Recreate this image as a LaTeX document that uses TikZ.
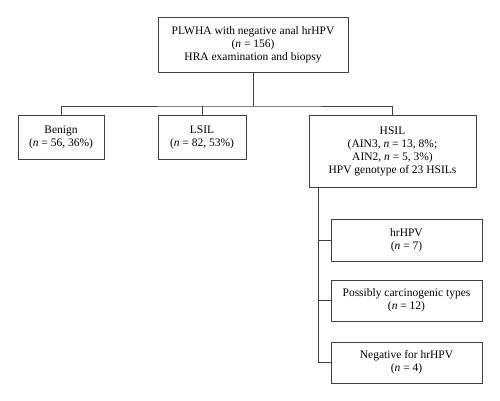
\documentclass[tikz,border=0pt]{standalone}
\usepackage{fontspec}
\setmainfont{Liberation Serif}
\usetikzlibrary{positioning}

\tikzset{
  box/.style = {draw, line width=0.8pt, draw=black!75, align=center, inner sep=0pt,
    font=\fontsize{11.5}{13}\selectfont},
  link/.style = {line width=0.8pt, black!75}
}

\begin{document}
\begin{tikzpicture}[x=1pt, y=-1pt]
\useasboundingbox (0,0) rectangle (500,401);
\path (253,44.5) node[box, minimum width=190pt, minimum height=55pt] (top)
  {PLWHA with negative anal hrHPV\\(\textit{n} = 156)\\HRA examination and biopsy};
\path (61,137) node[box, minimum width=86pt, minimum height=44pt] (benign)
  {Benign\\(\textit{n} = 56, 36\%)};
\path (202,137) node[box, minimum width=88pt, minimum height=44pt] (lsil)
  {LSIL\\(\textit{n} = 82, 53\%)};
\path (392.5,151) node[box, minimum width=167pt, minimum height=72pt] (hsil)
  {HSIL\\(AIN3, \textit{n} = 13, 8\%;\\AIN2, \textit{n} = 5, 3\%)\\HPV genotype of 23 HSILs};
\path (406.5,240) node[box, minimum width=151pt, minimum height=42pt] (hr)
  {hrHPV\\(\textit{n} = 7)};
\path (406.5,300.5) node[box, minimum width=151pt, minimum height=41pt] (pos)
  {Possibly carcinogenic types\\(\textit{n} = 12)};
\path (406.5,362.5) node[box, minimum width=151pt, minimum height=41pt] (neg)
  {Negative for hrHPV\\(\textit{n} = 4)};
\coordinate (j) at (252,106);
\coordinate (t) at ([xshift=10pt]hsil.south west);
\draw[link] (top.south) -- (top.south |- j);
\draw[link] (benign.north) |- (j) -| (hsil.north);
\draw[link] (lsil.north) -- (lsil.north |- j);
\draw[link] (t) |- (neg.west);
\draw[link] (hr.west) -- (hr.west -| t);
\draw[link] (pos.west) -- (pos.west -| t);
\end{tikzpicture}
\end{document}
